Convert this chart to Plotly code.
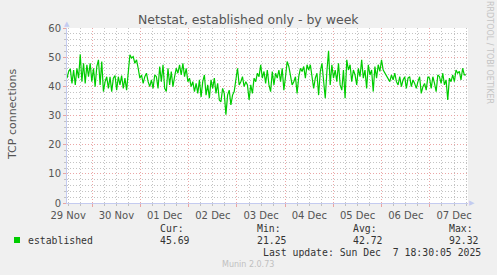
import pandas as pd
import plotly.graph_objects as go

# ---- data ----
series_name = "established"
values_part1 = [
    42.8, 45.1, 46.0, 41.0, 45.6, 40.5, 46.2, 42.8, 51.0, 41.6, 47.9, 41.0, 47.4, 43.3, 47.9, 41.6,
    46.2, 39.9, 46.8, 49.1, 40.5, 48.5, 38.2, 41.6, 43.3, 39.3, 43.3, 38.2, 42.8, 43.7, 38.7, 43.3,
    40.5, 43.7, 39.3, 42.8, 38.7, 45.6, 50.8, 49.7, 50.2, 47.9, 49.1, 46.2, 42.8, 43.9, 41.0, 43.3,
    44.5, 41.6, 39.9, 42.2, 39.3, 43.9, 43.3, 39.3, 46.8, 41.6, 47.4, 39.3, 38.2, 46.2, 40.5, 45.1,
    39.9, 43.3, 46.2, 44.5, 47.4, 43.9, 47.9, 43.3, 46.2, 41.6, 42.8, 39.9, 41.6, 38.2, 41.0, 37.6,
    42.2, 36.4, 41.6, 43.9, 37.0, 40.5, 35.9, 42.2, 39.3, 42.8, 37.6, 41.0, 35.3, 34.7, 39.3, 37.6,
    30.3, 37.0, 38.7, 33.6, 37.0, 38.2, 42.8, 46.2, 40.5, 41.6, 43.3, 39.9, 41.6, 40.5, 35.3, 40.5,
    37.6, 42.8, 41.6, 44.5, 43.3, 47.4, 42.8, 45.1, 41.0, 45.6,
]
values_part2 = [
    40.5, 38.2, 45.1, 40.5, 44.5, 42.8, 45.6, 41.6, 46.2, 38.7, 43.3, 48.5, 46.8, 43.3, 40.5, 41.6,
    43.3, 37.6, 43.3, 46.2, 45.1, 46.8, 42.8, 47.4, 45.6, 47.4, 43.9, 39.3, 42.8, 44.5, 37.0, 45.1,
    47.9, 42.2, 35.9, 45.1, 52.2, 40.5, 47.4, 42.8, 45.6, 41.6, 47.9, 40.5, 38.7, 45.6, 35.9, 49.1,
    45.6, 47.4, 41.6, 45.6, 43.9, 40.5, 46.2, 43.3, 49.1, 42.8, 45.6, 39.3, 47.4, 43.9, 45.6, 38.2,
    46.8, 42.8, 47.4, 45.1, 49.1, 45.6, 44.5, 43.9, 42.8, 41.6, 43.9, 42.2, 44.5, 41.6, 40.5, 43.3,
    39.9, 42.2, 43.3, 39.3, 42.8, 43.3, 39.9, 42.2, 41.0, 39.3, 41.6, 43.3, 37.6, 39.9, 41.0, 38.7,
    43.3, 42.8, 39.3, 43.3, 41.0, 38.2, 43.9, 43.3, 41.0, 44.5, 40.5, 42.2, 35.3, 42.8, 41.6, 43.9,
    41.6, 45.6, 44.5, 45.1, 42.2, 46.2, 43.9, 43.9,
]
values = values_part1 + values_part2
data_start = "2025-11-29 11:25"
data_end = "2025-12-07 17:57"
times = pd.date_range(start=data_start, end=data_end, periods=len(values))
x_range = ["2025-11-29 11:25", "2025-12-07 18:58"]
y_range = [0, 60]
legend_labels = ["Cur:", "Min:", "Avg:", "Max:"]
legend_values = ["45.69", "21.25", "42.72", "92.32"]
last_update = "Last update: Sun Dec  7 18:30:05 2025"

# ---- layout geometry ----
W, H = 497, 275
L, R, T, B = 67, 29, 28, 72
PW, PH = W - L - R, H - T - B


def px(x):
    return (x - L) / PW


def py(y):
    return (H - B - y) / PH


RED = "rgba(232,150,150,0.85)"
GREY = "rgba(185,185,185,0.85)"
DASH = "1px,2px"
AXIS = "#c4cbf0"
MONO = "DejaVu Sans Mono"
SANS = "DejaVu Sans"

fig = go.Figure()
fig.add_trace(go.Scatter(
    x=times, y=values, mode="lines", name=series_name,
    line=dict(color="#00cc00", width=1.2), showlegend=False,
))

fig.update_layout(
    width=W, height=H,
    margin=dict(l=L, r=R, t=T, b=B, pad=0),
    paper_bgcolor="#f0f0f0", plot_bgcolor="#ffffff",
    showlegend=False,
)
fig.update_xaxes(
    range=x_range, type="date",
    tick0="2025-11-29", dtick=86400000, ticklabelmode="period", tickformat="%d %b",
    showgrid=True, gridcolor=RED, griddash=DASH, gridwidth=1,
    ticks="outside", ticklen=3, tickcolor=RED,
    minor=dict(dtick=6 * 3600000, showgrid=True, gridcolor=GREY, griddash=DASH,
               ticks="outside", ticklen=2, tickcolor=GREY),
    showline=True, linecolor=AXIS, linewidth=1,
    tickfont=dict(family=SANS, size=10, color="#555555"),
    zeroline=False,
)
fig.update_yaxes(
    range=y_range, dtick=10, tick0=0,
    showgrid=True, gridcolor=RED, griddash=DASH, gridwidth=1,
    ticks="outside", ticklen=3, tickcolor=RED,
    minor=dict(dtick=2, showgrid=True, gridcolor=GREY, griddash=DASH,
               ticks="outside", ticklen=2, tickcolor=GREY),
    showline=True, linecolor=AXIS, linewidth=1,
    tickfont=dict(family=SANS, size=10, color="#555555"),
    zeroline=False,
)

ann = []


def text(x, y, s, size, color, family, xanchor="left", angle=0):
    ann.append(dict(x=px(x), y=py(y), xref="paper", yref="paper", text=s, showarrow=False,
                    xanchor=xanchor, yanchor="middle", textangle=angle,
                    font=dict(family=family, size=size, color=color)))


text(248, 19, "Netstat, established only - by week", 12.5, "#555555", SANS, "center")
text(12, 115, "TCP connections", 11, "#555555", SANS, "center", -90)
text(490, 53, "RRDTOOL / TOBI OETIKER", 8, "#c4c4c4", SANS, "center", 90)
text(67, 24, "▲", 7, AXIS, SANS, "center")
text(472, 203, "▶", 7, AXIS, SANS, "center")
text(26, 240, series_name, 9.8, "#333333", MONO)
for lab, val, xx in zip(legend_labels, legend_values, [158, 254.5, 350.5, 446.5]):
    text(xx, 228, lab, 9.8, "#333333", MONO)
    text(xx, 240, val, 9.8, "#333333", MONO)
text(482.5, 252, last_update, 9.8, "#333333", MONO, "right")
text(248, 264, "Munin 2.0.73", 8, "#c0c0c0", SANS, "center")
fig.update_layout(annotations=ann)

fig.add_shape(type="rect", xref="paper", yref="paper",
              x0=px(14), x1=px(20), y0=py(243), y1=py(237),
              fillcolor="#00cc00", line=dict(width=0))

fig.write_html("out.html")
